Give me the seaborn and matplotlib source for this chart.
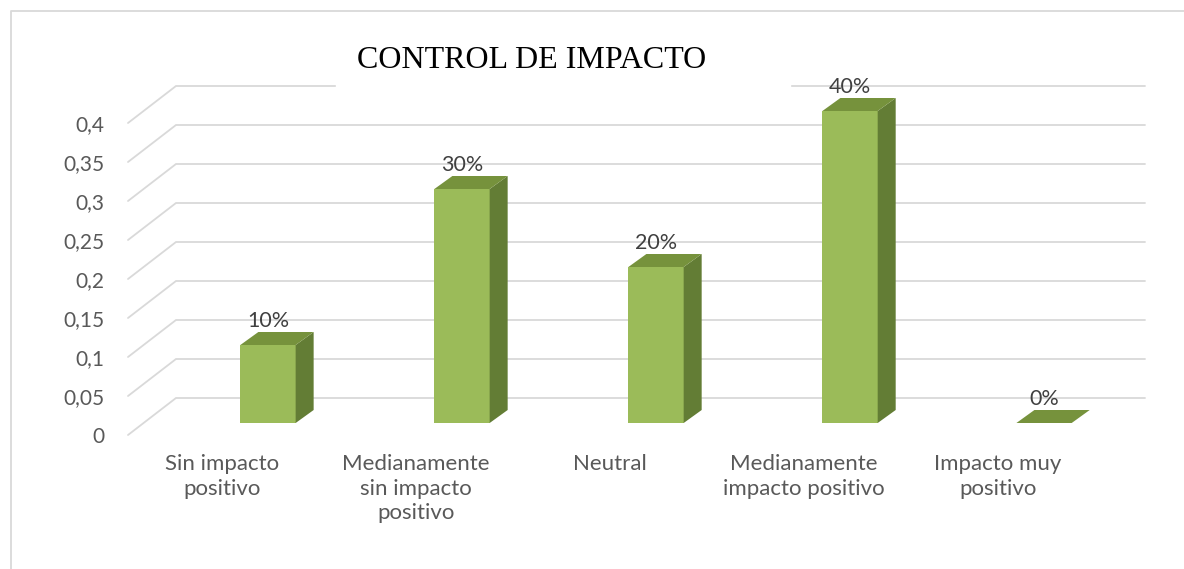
import pandas as pd
import matplotlib
matplotlib.use("Agg")
import matplotlib.pyplot as plt
import matplotlib.transforms as mtransforms
from matplotlib.patches import Polygon, Rectangle
from matplotlib.lines import Line2D
import seaborn as sns

# datos
categorias = ["Sin impacto\npositivo", "Medianamente\nsin impacto\npositivo", "Neutral",
              "Medianamente\nimpacto positivo", "Impacto muy\npositivo"]
valores = [0.1, 0.3, 0.2, 0.4, 0.0]
etiquetas = ["10%", "30%", "20%", "40%", "0%"]
ticks_y = [0, 0.05, 0.1, 0.15, 0.2, 0.25, 0.3, 0.35, 0.4]
ticks_y_txt = ["0", "0,05", "0,1", "0,15", "0,2", "0,25", "0,3", "0,35", "0,4"]
titulo = "CONTROL DE IMPACTO"

c_frente = "#9BBB59"
c_arriba = "#76923C"
c_lado = "#637D35"
c_grid = "#D9D9D9"
c_texto = "#595959"

W, H = 1184, 569
sns.set_theme(style="white")
plt.rcParams['font.family'] = ['Lato', 'DejaVu Sans']

fig = plt.figure(figsize=(W / 100, H / 100), dpi=100)
ax = fig.add_axes([128 / W, 1 - 435 / H, (1097 - 128) / W, (435 - 84) / H])

df = pd.DataFrame({"categoria": categorias, "valor": valores})
sns.barplot(data=df, x="categoria", y="valor", color=c_frente, saturation=1,
            width=0.285, ax=ax, linewidth=0, zorder=3)
ax.set_xlim(-0.4845, 4.51)
ax.set_ylim(0, 0.45)
for s in ax.spines.values():
    s.set_visible(False)
ax.set_xlabel("")
ax.set_ylabel("")

# profundidad en pixeles
fondo_dx, fondo_dy = 48, 37      # pared del fondo
barra_dx, barra_dy = 46, 12      # frente de la barra respecto al piso frontal
prof_dx, prof_dy = 18, 13        # profundidad de la barra


def px(x, y, dx=0, dy=0):
    # punto en datos desplazado dx, dy pixeles
    d = ax.transData.transform((x, y))
    return ax.transData.inverted().transform((d[0] + dx, d[1] + dy))


x0, x1 = ax.get_xlim()
for v in ticks_y:
    p0 = px(x0, v)
    p1 = px(x0, v, fondo_dx, fondo_dy)
    p2 = px(x1, v, fondo_dx, fondo_dy)
    ax.add_line(Line2D([p0[0], p1[0], p2[0]], [p0[1], p1[1], p2[1]], color=c_grid,
                       lw=1.3, zorder=1, clip_on=False, solid_joinstyle="miter"))

desp = mtransforms.offset_copy(ax.transData, fig=fig, x=barra_dx, y=barra_dy, units="dots")
for bar, lab in zip(ax.patches, etiquetas):
    bar.set_transform(desp)
    xa = bar.get_x()
    xb = xa + bar.get_width()
    h = bar.get_height()
    a = px(xa, h, barra_dx, barra_dy)
    b = px(xb, h, barra_dx, barra_dy)
    c = px(xb, h, barra_dx + prof_dx, barra_dy + prof_dy)
    d = px(xa, h, barra_dx + prof_dx, barra_dy + prof_dy)
    e = px(xb, 0, barra_dx, barra_dy)
    f = px(xb, 0, barra_dx + prof_dx, barra_dy + prof_dy)
    if h > 0:
        ax.add_patch(Polygon([b, c, f, e], closed=True, color=c_lado, lw=0, zorder=3))
    ax.add_patch(Polygon([a, b, c, d], closed=True, color=c_arriba, lw=0, zorder=4))
    ax.annotate(lab, xy=(xa + bar.get_width() / 2, h), xytext=(barra_dx, 30),
                textcoords="offset pixels", ha="center", va="baseline",
                fontsize=15.5, color="#404040", zorder=6)

ax.set_yticks(ticks_y, ticks_y_txt)
ax.tick_params(axis="y", length=0, pad=17, labelsize=15, labelcolor=c_texto)
ax.tick_params(axis="x", length=0, pad=14, labelsize=16, labelcolor=c_texto)
for t in ax.get_xticklabels():
    t.set_linespacing(1.28)
    t.set_ha("center")
ax.grid(False)

# titulo con fondo blanco
fig.patches.append(Rectangle((336 / W, 1 - 96 / H), (790 - 336) / W, 60 / H,
                             transform=fig.transFigure, color="white", zorder=5))
fig.text(532 / W, 1 - 68 / H, titulo, ha="center", va="baseline", fontsize=23,
         family="Liberation Serif", color="black", zorder=6)

# borde del grafico
fig.add_artist(Line2D([11 / W, 11 / W, 1], [0, 1 - 11 / H, 1 - 11 / H],
                      transform=fig.transFigure, color=c_grid, lw=1.3))

fig.savefig("out.png", dpi=100)
